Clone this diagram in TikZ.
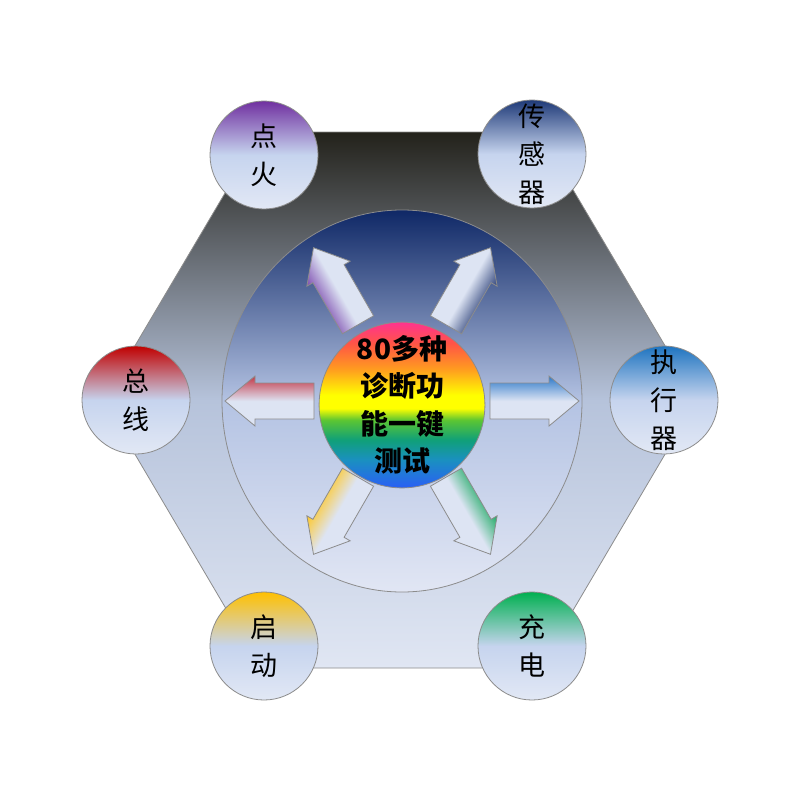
\documentclass[tikz,border=0pt]{standalone}
\usepackage{fontspec}
\usepackage{tikz}
\usetikzlibrary{shapes.geometric}
\newfontfamily\cjk{Noto Sans CJK SC}
\definecolor{cedge}{HTML}{8C8C8C}
\definecolor{chextop}{HTML}{23221B}
\definecolor{chexmid}{HTML}{B6C3DB}
\definecolor{chexbot}{HTML}{E0E6F3}
\definecolor{cringtop}{HTML}{0F2866}
\definecolor{cringmid}{HTML}{B4C3E3}
\definecolor{cringbot}{HTML}{E1E6F4}
\definecolor{clight}{HTML}{C6D4EE}
\definecolor{cpale}{HTML}{E2E8F5}
\definecolor{carrlt}{HTML}{DDE4F3}
\definecolor{cpurple}{HTML}{7030A0}
\definecolor{cnavy}{HTML}{1F3A78}
\definecolor{cred}{HTML}{C00000}
\definecolor{cblue}{HTML}{1E74C0}
\definecolor{camber}{HTML}{FFC000}
\definecolor{cgreen}{HTML}{00B050}
\definecolor{apurple}{HTML}{7D4BAF}
\definecolor{anavy}{HTML}{2D4178}
\definecolor{ared}{HTML}{C33746}
\definecolor{ablue}{HTML}{2D78C8}
\definecolor{aamber}{HTML}{FFC828}
\definecolor{agreen}{HTML}{1EAA64}
\definecolor{rbblue}{HTML}{2A5FF5}
\definecolor{rbsky}{HTML}{1A90C0}
\definecolor{rbteal}{HTML}{10A078}
\definecolor{rbgreen}{HTML}{5CC632}
\definecolor{rbyellow}{HTML}{FFFF00}
\definecolor{rborange}{HTML}{FF9A20}
\definecolor{rbred}{HTML}{FF5545}
\definecolor{rbpink}{HTML}{FF3390}
\pgfdeclareverticalshading{rainbow}{100bp}{color(0bp)=(rbblue); color(25bp)=(rbblue);
  color(33.5bp)=(rbsky); color(39.5bp)=(rbteal); color(45.5bp)=(rbgreen);
  color(49bp)=(rbyellow); color(53bp)=(rbyellow); color(61bp)=(rborange);
  color(68.5bp)=(rbred); color(75bp)=(rbpink); color(100bp)=(rbpink)}
\begin{document}
\begin{tikzpicture}[x=1pt,y=-1pt,
  orb/.style={circle,draw=cedge,line width=0.8pt,minimum size=108pt,inner sep=0pt,
    align=center,font=\cjk\fontsize{27}{38}\selectfont},
  blockarrow/.style={draw=cedge,line width=0.8pt}]
  \fill[white] (0,0) rectangle (800,800);
  \useasboundingbox (0,0) rectangle (800,800);
  \coordinate (ctr) at (402,401);
  \shade[draw=cedge,line width=0.8pt,top color=chextop,bottom color=chexbot,middle color=chexmid]
    (103,400) -- (261,132) -- (539,132) -- (697,400) -- (539,668) -- (261,668) -- cycle;
  \node[ellipse,draw=cedge,line width=0.8pt,minimum width=360pt,minimum height=382pt,
    top color=cringtop,bottom color=cringbot,middle color=cringmid] (ring) at (ctr) {};
  \foreach \ang/\ca/\cb in {0/ablue/carrlt, 60/carrlt/anavy, 120/apurple/carrlt,
                            180/carrlt/ared, 240/carrlt/aamber, 300/agreen/carrlt} {
    \begin{scope}[transform canvas={rotate around={\ang:(ctr)}}]
      \shade[blockarrow,top color=\ca,bottom color=\cb,middle color=carrlt]
        (490,383) -- (549,383) -- (549,376) -- (579,401) -- (549,426) -- (549,419) -- (490,419) -- cycle;
    \end{scope}
  }
  \node[circle,draw=cedge,line width=0.8pt,minimum size=164pt,inner sep=0pt,shading=rainbow,
    align=center,font=\cjk\bfseries\fontsize{28}{37.5}\selectfont] (core) at (402,405)
    {80多种\\诊断功\\能一键\\测试};
  \foreach \nm/\xx/\yy/\cc/\txt in {dianhuo/264/155/cpurple/{点\\火},
      chuangan/532/154/cnavy/{传\\感\\器}, zongxian/136/400/cred/{总\\线},
      zhixing/664/400/cblue/{执\\行\\器}, qidong/264/646/camber/{启\\动},
      chongdian/532/646/cgreen/{充\\电}}
    \node[orb,top color=\cc,bottom color=cpale,middle color=clight] (\nm) at (\xx,\yy) {\txt};
\end{tikzpicture}
\end{document}
